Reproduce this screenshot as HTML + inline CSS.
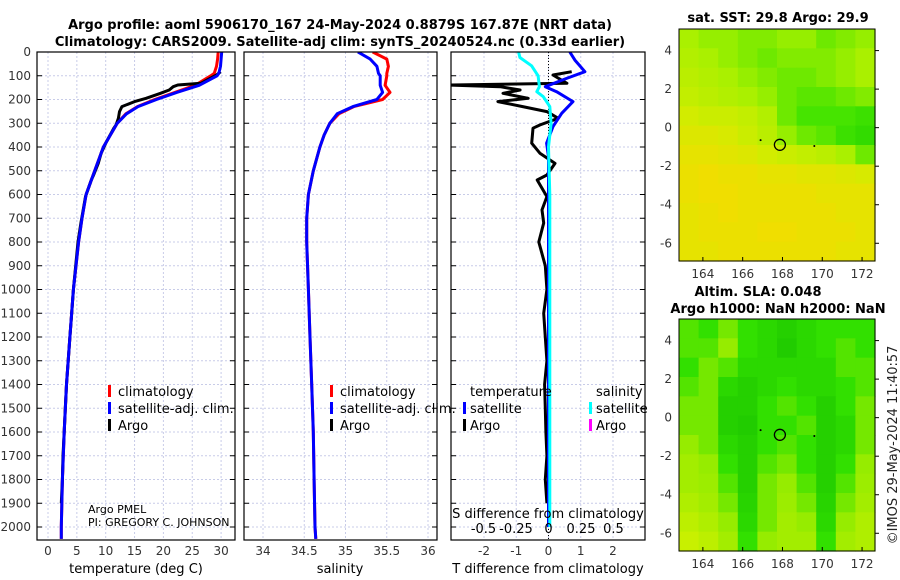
<!DOCTYPE html>
<html><head><meta charset="utf-8">
<style>
html,body{margin:0;padding:0;background:#fff;}
svg{display:block;font-family:"DejaVu Sans","Liberation Sans",sans-serif;}
.t{font-size:12px;fill:#333;}
.ti{font-size:13px;font-weight:bold;fill:#000;}
.lg{font-size:13px;fill:#000;}
</style></head>
<body>
<svg id="fig" width="900" height="580" viewBox="0 0 900 580" xmlns="http://www.w3.org/2000/svg">
<text class="ti" x="340" y="29" text-anchor="middle">Argo profile: aoml 5906170_167 24-May-2024 0.8879S 167.87E (NRT data)</text>
<text class="ti" x="340" y="46" text-anchor="middle">Climatology: CARS2009. Satellite-adj clim: synTS_20240524.nc (0.33d earlier)</text>
<text class="ti" x="778" y="22" text-anchor="middle">sat. SST: 29.8 Argo: 29.9</text>
<text class="ti" x="758" y="296" text-anchor="middle">Altim. SLA: 0.048</text>
<text class="ti" x="778" y="313" text-anchor="middle">Argo h1000: NaN h2000: NaN</text>
<text class="t" x="0" y="0" transform="translate(897,445) rotate(-90)" text-anchor="middle" style="font-size:13px;fill:#222">©IMOS 29-May-2024 11:40:57</text>
<g id="g"></g>
</svg>
<script>
// ---- data ----
const depthTicks = [0,100,200,300,400,500,600,700,800,900,1000,1100,1200,1300,1400,1500,1600,1700,1800,1900,2000];
const tempTicks = [0,5,10,15,20,25,30];
const salTicks = [34,34.5,35,35.5,36];
const salTickLabels = ["34","34.5","35","35.5","36"];
const tdiffTicks = [-2,-1,0,1,2];
const sdiffTicks = [-0.5,-0.25,0,0.25,0.5];
const sdiffTickLabels = ["-0.5","-0.25","0","0.25","0.5"];

const climDepth = [0,30,60,90,100,140,170,200,230,260,300,350,400,500,600,700,800,1000,1200,1400,1600,1800,2000,2050];
const climTemp  = [29.5,29.4,29.2,28.8,28.2,25.5,22,18.5,15.5,13.5,12.0,10.8,9.6,8.1,6.6,5.9,5.3,4.4,3.8,3.2,2.8,2.5,2.3,2.3];
const satTemp   = [30.1,30.0,29.9,29.6,29.3,26.2,22.3,18.8,15.6,13.6,12.0,10.8,9.6,8.1,6.6,5.9,5.3,4.4,3.8,3.2,2.8,2.5,2.3,2.3];
const climSal   = [35.33,35.5,35.52,35.5,35.5,35.48,35.54,35.45,35.1,34.92,34.81,34.74,34.69,34.61,34.55,34.53,34.53,34.55,34.57,34.59,34.61,34.62,34.63,34.64];
const satSal    = [35.15,35.3,35.38,35.4,35.42,35.42,35.45,35.38,35.09,34.9,34.81,34.74,34.69,34.61,34.55,34.53,34.53,34.55,34.57,34.59,34.61,34.62,34.63,34.64];

const argoDepth = [83,97,132,139,146,160,174,195,209,230,251,279,307,321,384,427,469,518,539,609,665,720,800,900,1000,1100,1200,1300,1400,1500,1600,1700,1800,1900];
const argoTemp  = [29.9,29.2,26.5,22.5,21.7,21.0,19.5,17.0,15.0,12.8,12.4,12.2,11.8,11.4,10.0,9.2,8.7,7.9,7.5,6.5,6.1,5.7,5.2,4.8,4.4,4.1,3.8,3.5,3.2,3.0,2.8,2.6,2.5,2.3];
const argoTdiff = [0.72,0.14,0.57,-3.1,-1.5,-0.88,-1.41,-0.63,-1.57,-0.8,-0.05,0.3,-0.26,-0.48,-0.52,-0.26,0.2,-0.05,-0.35,-0.05,-0.2,-0.15,-0.3,-0.1,-0.05,-0.15,-0.1,-0.05,-0.12,-0.1,-0.08,-0.05,-0.1,-0.05];
const satDiffDepth = [0,34,83,111,146,167,209,258,314,384,441,600,800,1000,1400,1800,2000];
const satTdiff  = [0.66,0.82,1.13,0.56,-0.1,0.25,0.76,0.41,0.14,-0.06,0,0,0,0,0,0,0];
const satSdiffDepth = [0,23,58,100,146,167,188,230,301,399,600,1000,1400,1800,2000];
const satSdiff  = [-0.23,-0.22,-0.13,-0.08,-0.07,-0.09,-0.04,0.01,0.02,0,0.01,0.01,0.01,0.01,0.01];

const lonTicks = [164,166,168,170,172];
const latTicks = [4,2,0,-2,-4,-6];
const sstGrid = [
 [0.55,0.6,0.6,0.65,0.65,0.6,0.6,0.7,0.65,0.6],
 [0.5,0.55,0.6,0.65,0.7,0.65,0.65,0.65,0.6,0.55],
 [0.45,0.5,0.55,0.6,0.65,0.7,0.7,0.65,0.6,0.55],
 [0.4,0.45,0.5,0.55,0.6,0.7,0.75,0.75,0.7,0.65],
 [0.3,0.35,0.35,0.4,0.5,0.7,0.8,0.8,0.8,0.85],
 [0.2,0.2,0.25,0.35,0.45,0.6,0.7,0.75,0.85,0.9],
 [0.1,0.1,0.15,0.2,0.3,0.35,0.4,0.45,0.55,0.7],
 [0.05,0.0,0.05,0.05,0.1,0.1,0.15,0.15,0.2,0.25],
 [0.05,0.0,0.0,0.05,0.05,0.05,0.05,0.1,0.1,0.1],
 [0.1,0.05,0.0,0.05,0.05,0.05,0.05,0.05,0.1,0.1],
 [0.1,0.05,0.05,0.05,0.0,0.0,0.05,0.05,0.05,0.1],
 [0.1,0.1,0.05,0.05,0.05,0.05,0.05,0.05,0.1,0.1]];
const slaGrid = [
 [0.6,0.7,0.5,0.7,0.8,0.9,0.8,0.7,0.7,0.7],
 [0.6,0.6,0.4,0.7,0.8,0.95,0.8,0.7,0.6,0.7],
 [0.7,0.5,0.6,0.8,0.8,0.8,0.8,0.8,0.6,0.6],
 [0.6,0.5,0.8,0.9,0.8,0.7,0.8,0.8,0.7,0.6],
 [0.5,0.5,0.9,0.9,0.7,0.6,0.7,0.9,0.7,0.5],
 [0.5,0.5,0.9,0.95,0.7,0.7,0.6,0.9,0.8,0.5],
 [0.4,0.5,0.8,0.9,0.7,0.6,0.7,0.9,0.8,0.5],
 [0.3,0.4,0.7,0.9,0.6,0.5,0.7,0.9,0.7,0.4],
 [0.3,0.35,0.6,0.9,0.5,0.4,0.6,0.9,0.6,0.35],
 [0.2,0.3,0.5,0.85,0.5,0.35,0.5,0.85,0.5,0.3],
 [0.1,0.2,0.4,0.8,0.5,0.3,0.4,0.8,0.4,0.2],
 [0.0,0.1,0.3,0.7,0.4,0.3,0.3,0.7,0.3,0.2]];
const argoLon = 167.87, argoLat = -0.89;

// ---- drawing ----
const NS="http://www.w3.org/2000/svg";
const G=document.getElementById('g');
function mk(tag,attrs,parent){const e=document.createElementNS(NS,tag);for(const k in attrs)e.setAttribute(k,attrs[k]);(parent||G).appendChild(e);return e;}
const TOP=52, BOT=540;
const yD = d => TOP + d*0.2375;
const xT = v => 48 + v*5.77;
const xS = v => 263 + (v-34)*82.5;
const xTd = v => 548.5 + v*32.25;
const xSd = v => 548.5 + v*130;
const panels=[{x0:37,x1:235,name:'temperature-panel'},{x0:244,x1:437,name:'salinity-panel'},{x0:451,x1:645,name:'difference-panel'}];

panels.forEach((p,pi)=>{
  const clip=mk('clipPath',{id:'c'+pi});
  mk('rect',{x:p.x0,y:TOP,width:p.x1-p.x0,height:BOT-TOP},clip);
  const g=mk('g',{'clip-path':'url(#c'+pi+')'});
  
  
  p.g=g;
  depthTicks.forEach(d=>{
    const l=mk('line',{x1:p.x0,x2:p.x1,y1:yD(d),y2:yD(d),stroke:'#c8cce8','stroke-width':1,'stroke-dasharray':'2,2'},g);
    
    
    const t1=mk('line',{x1:p.x0,x2:p.x0+5,y1:yD(d),y2:yD(d),stroke:'#000'});
    
    
    const t2=mk('line',{x1:p.x1-5,x2:p.x1,y1:yD(d),y2:yD(d),stroke:'#000'});
    
    
  });
});
depthTicks.forEach(d=>{
  const t=mk('text',{x:31,y:yD(d)+4,'text-anchor':'end',class:'t'});
  t.textContent=d;
  
  
});
function xgrid(p,ticks,labels,fx,ly,name){
  ticks.forEach((v,i)=>{
    const l=mk('line',{x1:fx(v),x2:fx(v),y1:TOP,y2:BOT,stroke:'#c8cce8','stroke-dasharray':'2,2'},p.g);
    
    
    if(ly){const t=mk('text',{x:fx(v),y:ly,'text-anchor':'middle',class:'t'});
      t.textContent=labels[i];
      
      }
  });
}
xgrid(panels[0],tempTicks,tempTicks.map(String),xT,555,'temperature');
xgrid(panels[1],salTicks,salTickLabels,xS,555,'salinity');
xgrid(panels[2],tdiffTicks,tdiffTicks.map(String),xTd,555,'t-difference');
sdiffTicks.forEach((v,i)=>{
  const t=mk('text',{x:xSd(v),y:533,'text-anchor':'middle',class:'t',style:'fill:#000;font-size:13px'});
  t.textContent=sdiffTickLabels[i];
  
  
});
const zl=mk('line',{x1:xTd(0),x2:xTd(0),y1:TOP,y2:BOT,stroke:'#000','stroke-dasharray':'1,2'},panels[2].g);



function line(p,ds,vs,fx,col,w,name){
  const pts=ds.map((d,i)=>fx(vs[i]).toFixed(1)+','+yD(d).toFixed(1)).join(' ');
  const pl=mk('polyline',{points:pts,fill:'none',stroke:col,'stroke-width':w,'stroke-linejoin':'round'},p.g);
  
  
}
line(panels[0],climDepth,climTemp,xT,'#f00',3,'climatology-temperature-line');
line(panels[0],argoDepth,argoTemp,xT,'#000',3,'argo-temperature-line');
line(panels[0],climDepth,satTemp,xT,'#00f',3,'satellite-temperature-line');
line(panels[1],climDepth,climSal,xS,'#f00',3,'climatology-salinity-line');
line(panels[1],climDepth,satSal,xS,'#00f',3,'satellite-salinity-line');
line(panels[2],argoDepth,argoTdiff,xTd,'#000',3,'argo-t-difference-line');
line(panels[2],satDiffDepth,satTdiff,xTd,'#00f',3,'satellite-t-difference-line');
line(panels[2],satSdiffDepth,satSdiff,xSd,'#0ff',3,'satellite-s-difference-line');

panels.forEach(p=>{
  const r=mk('rect',{x:p.x0,y:TOP,width:p.x1-p.x0,height:BOT-TOP,fill:'none',stroke:'#000','stroke-width':1.2});
  
  
});
function txt(x,y,s,name,cls,anchor,style){
  const t=mk('text',{x:x,y:y,class:cls||'lg','text-anchor':anchor||'start'});
  if(style)t.setAttribute('style',style);
  t.textContent=s;
  
  
}
function mark(x,y,col,name){
  const r=mk('rect',{x:x,y:y-12,width:3,height:12,fill:col});
  
  
}
txt(136,573,'temperature (deg C)','temperature-axis-title','lg','middle');
txt(340,573,'salinity','salinity-axis-title','lg','middle');
txt(548,573,'T difference from climatology','t-difference-axis-title','lg','middle');
txt(548,518,'S difference from climatology','s-difference-axis-title','lg','middle');
[[108,118],[330,340]].forEach(([mx,tx])=>{
  mark(mx,397,'#f00','legend-climatology-marker');txt(tx,396,'climatology','legend-climatology');
  mark(mx,414,'#00f','legend-satellite-marker');txt(tx,413,'satellite-adj. clim.','legend-satellite-adj-clim');
  mark(mx,431,'#000','legend-argo-marker');txt(tx,430,'Argo','legend-argo');
});
txt(470,396,'temperature','legend-temperature-header');
mark(463,414,'#00f','legend-t-satellite-marker');txt(470,413,'satellite','legend-t-satellite');
mark(463,431,'#000','legend-t-argo-marker');txt(470,430,'Argo','legend-t-argo');
txt(596,396,'salinity','legend-salinity-header');
mark(589,414,'#0ff','legend-s-satellite-marker');txt(596,413,'satellite','legend-s-satellite');
mark(589,431,'#f0f','legend-s-argo-marker');txt(596,430,'Argo','legend-s-argo');
txt(88,513,'Argo PMEL','credit-argo-pmel','lg','start','font-size:11px');
txt(88,526,'PI: GREGORY C. JOHNSON','credit-pi','lg','start','font-size:11px');

// maps
const lonMin=162.8, lonMax=172.65, latMax=5.12, latMin=-6.92;
function colorOf(v,stops){
  for(let i=1;i<stops.length;i++){if(v<=stops[i][0]){const a=stops[i-1],b=stops[i];const f=(v-a[0])/(b[0]-a[0]);
    return 'rgb('+[0,1,2].map(k=>Math.round(a[1][k]+(b[1][k]-a[1][k])*f)).join(',')+')';}}
  return 'rgb('+stops[stops.length-1][1].join(',')+')';
}
const sstStops=[[0,[240,222,0]],[0.3,[210,236,0]],[0.55,[170,240,0]],[0.8,[70,228,0]],[1,[30,210,0]]];
const slaStops=[[0,[200,240,0]],[0.4,[150,236,0]],[0.7,[50,224,0]],[1,[30,200,0]]];
function drawMap(y0,y1,grid,stops,name){
  const x0=679,x1=875;
  const fx=lon=>x0+(lon-lonMin)/(lonMax-lonMin)*(x1-x0);
  const fy=lat=>y0+(latMax-lat)/(latMax-latMin)*(y1-y0);
  const rows=grid.length, cols=grid[0].length;
  const cw=(x1-x0)/cols, ch=(y1-y0)/rows;
  grid.forEach((row,r)=>row.forEach((v,c)=>{
    const cell=mk('rect',{x:(x0+c*cw).toFixed(2),y:(y0+r*ch).toFixed(2),width:(cw+0.6).toFixed(2),height:(ch+0.6).toFixed(2),fill:colorOf(v,stops)});
    
    
  }));
  lonTicks.forEach(l=>{
    const t=mk('line',{x1:fx(l),x2:fx(l),y1:y1,y2:y1-4,stroke:'#000'});
    
    
    const s=mk('text',{x:fx(l),y:y1+17,'text-anchor':'middle',class:'t'});
    s.textContent=l;
    
    
  });
  latTicks.forEach(l=>{
    const t=mk('line',{x1:x1,x2:x1+4,y1:fy(l),y2:fy(l),stroke:'#000'});
    
    
    const s=mk('text',{x:672,y:fy(l)+4,'text-anchor':'end',class:'t'});
    s.textContent=l;
    
    
  });
  const c=mk('circle',{cx:fx(argoLon),cy:fy(argoLat),r:5.5,fill:'none',stroke:'#000','stroke-width':1.3});
  
  
  [[166.9,-0.65],[169.6,-0.95]].forEach(([lo,la])=>{
    const d=mk('circle',{cx:fx(lo),cy:fy(la),r:1,fill:'#000'});
    
    
  });
  const f=mk('rect',{x:x0,y:y0,width:x1-x0,height:y1-y0,fill:'none',stroke:'#000','stroke-width':1});
  
  
}
drawMap(29,261,sstGrid,sstStops,'sst-map');
drawMap(319,551,slaGrid,slaStops,'sla-map');
</script>
</body></html>
